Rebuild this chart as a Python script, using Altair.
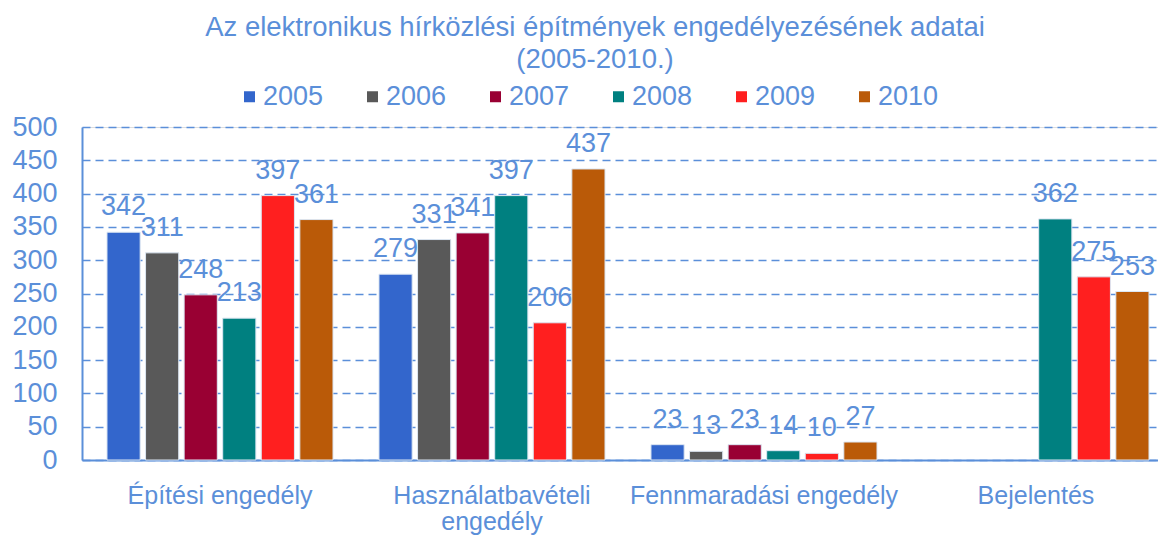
import altair as alt
import pandas as pd

categories = ["Építési engedély", "Használatbavételi engedély", "Fennmaradási engedély", "Bejelentés"]
years = ["2005", "2006", "2007", "2008", "2009", "2010"]
v2005 = [342, 279, 23, None]
v2006 = [311, 331, 13, None]
v2007 = [248, 341, 23, None]
v2008 = [213, 397, 14, 362]
v2009 = [397, 206, 10, 275]
v2010 = [361, 437, 27, 253]
colors = ["#3366CC", "#595959", "#990033", "#008080", "#FF1F1F", "#BA5A08"]

series = dict(zip(years, [v2005, v2006, v2007, v2008, v2009, v2010]))
rows = []
for y, vals in series.items():
    for c, v in zip(categories, vals):
        if v is not None:
            rows.append({"cat": c, "year": y, "value": v})
df = pd.DataFrame(rows)

BLUE = "#5B8FD9"
FONT = "Liberation Sans"

x_enc = alt.X(
    "cat:N",
    sort=categories,
    title=None,
    scale=alt.Scale(domain=categories, paddingInner=0.169, paddingOuter=0.0625, align=0.735),
    axis=alt.Axis(
        labelAngle=0, labelFontSize=25, labelColor=BLUE, labelFont=FONT,
        labelPadding=23, labelLineHeight=26, labelLimit=0, labelOverlap=False,
        ticks=False, domainColor=BLUE, domainWidth=2, grid=False,
        labelExpr="datum.label == 'Használatbavételi engedély' ? ['Használatbavételi', 'engedély'] : datum.label",
    ),
)
xo_enc = alt.XOffset("year:N", sort=years,
                     scale=alt.Scale(domain=years, paddingInner=0.14, paddingOuter=0))
y_enc = alt.Y(
    "value:Q",
    title=None,
    scale=alt.Scale(domain=[0, 500], nice=False),
    axis=alt.Axis(
        values=list(range(0, 501, 50)), labelFontSize=27, labelColor=BLUE, labelFont=FONT,
        labelPadding=25, ticks=False, domainColor=BLUE, domainWidth=2,
        grid=True, gridColor=BLUE, gridDash=[8, 5], gridWidth=1.5,
    ),
)

base = alt.Chart(df).encode(x=x_enc, xOffset=xo_enc, y=y_enc)

bars = base.mark_bar(stroke="#DCE6F2", strokeWidth=1).encode(
    color=alt.Color(
        "year:N", sort=years,
        scale=alt.Scale(domain=years, range=colors),
        legend=alt.Legend(
            title=None, orient="none", direction="horizontal", legendX=154, legendY=-44,
            symbolType="square", symbolSize=121, symbolStrokeWidth=0,
            labelFontSize=27, labelColor=BLUE, labelFont=FONT, labelOffset=0,
            columnPadding=35,
        ),
    )
)

labels = base.mark_text(dy=-17, baseline="alphabetic", fontSize=27, color=BLUE, font=FONT).encode(
    text="value:Q"
)

chart = (bars + labels).properties(
    width=1076,
    height=333,
    padding={"left": 74, "top": 119, "right": 0, "bottom": 75},
    autosize=alt.AutoSizeParams(type="none"),
    title=alt.TitleParams(
        text=["Az elektronikus hírközlési építmények engedélyezésének adatai", "(2005-2010.)"],
        fontSize=27.5, font=FONT, fontWeight="normal", color=BLUE, anchor="middle",
        lineHeight=32, offset=10, dx=-25,
    ),
).configure_view(stroke=None).configure(background="white")

chart.save("out.html", embed_options={"renderer": "svg", "actions": False})
